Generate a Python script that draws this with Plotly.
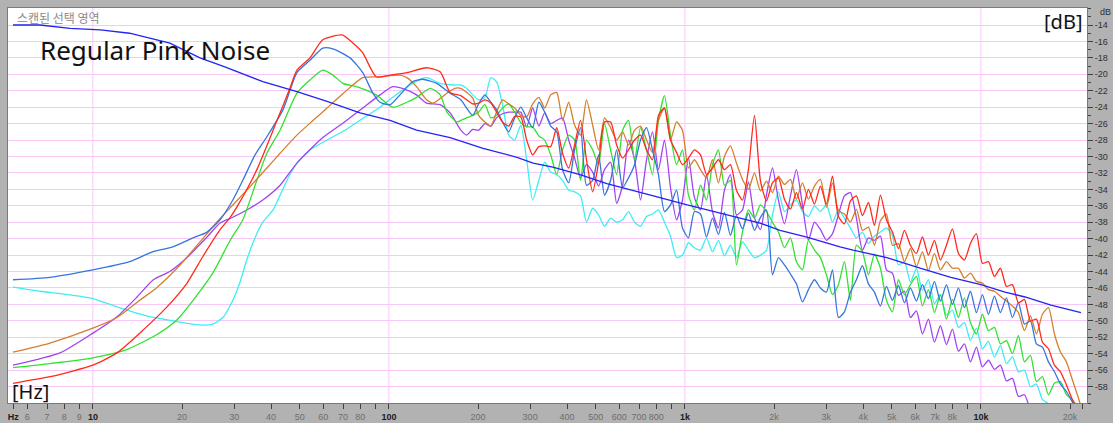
import plotly.graph_objects as go

# ---------------- data ----------------
# shared frequency grid (Hz) for the noisy upper part of the spectrum
NOISE_F = [175, 183, 192, 201, 211, 221, 231, 242, 254, 266,
           279, 292, 306, 321, 336, 352, 369, 386, 405, 424,
           444, 465, 488, 511, 535, 561, 588, 616, 645, 676,
           708, 742, 777, 814, 853, 894, 937, 981, 1028, 1077,
           1129, 1183, 1239, 1298, 1360, 1425, 1493, 1565, 1639, 1718,
           1800, 1886, 1976, 2070, 2169, 2273, 2381, 2495, 2614, 2739,
           2870, 3007, 3151, 3301, 3459, 3624, 3797, 3979, 4169, 4368,
           4577, 4795, 5024, 5264, 5516, 5779, 6055, 6345, 6648, 6965,
           7298, 7647, 8012, 8395, 8796, 9216, 9657, 10118, 10602, 11108,
           11639, 12195, 12778, 13389, 14029, 14699, 15402, 16138, 16909, 17717,
           18564, 19451, 20381, 21355, 22050]

# reference pink-noise curve
REF_F = [5.37, 6.63, 8.37, 10.6, 13.3, 18.2, 23.0, 27.9, 37.5, 48.9, 61.8, 79.9, 100.9, 124, 161,
         208, 271, 307, 358, 442, 545, 667, 824, 1018, 1246, 1535, 1794, 2096, 2582, 3343, 3700,
         4810, 6229, 7915, 10000, 12060, 14090, 17250, 21780]
REF_DB = [-14.0, -14.0, -14.4, -14.6, -15.0, -16.2, -18.0, -19.1, -20.9, -22.1, -23.3, -24.7, -25.6,
          -26.8, -27.7, -29.0, -30.1, -30.8, -31.3, -32.2, -33.3, -34.1, -35.0, -35.9, -36.7, -37.5,
          -38.1, -39.0, -39.8, -41.0, -41.4, -42.3, -43.6, -44.7, -45.6, -46.5, -47.1, -48.1, -49.0]

# red
RED_LOW_F = [5.37, 7.16, 10, 12.06, 14.8, 17.8, 20.8, 23.5, 26.9, 29.1, 30.7, 35.8, 41.9, 46.3, 48.9,
             54.1, 59.8, 69.5, 75.6, 81.6, 90.6, 100.9, 115, 134, 149, 161]
RED_LOW_DB = [-57.6, -56.8, -55.4, -53.9, -51.1, -48.3, -45.4, -42.2, -38.9, -37.4, -36.1, -31.6, -25.6,
              -21.7, -19.5, -18.0, -15.8, -15.2, -16.2, -17.4, -20.3, -20.1, -19.8, -19.2, -19.7, -22.2]
RED_HI_DB = [-22.6, -23.1, -23.6, -23.5, -23.1, -23.5, -24.6, -25.8, -26.3, -25.1,
             -25.2, -28.0, -29.8, -28.8, -28.7, -28.8, -26.5, -29.6, -31.4, -28.6,
             -25.6, -30.4, -34.3, -30.7, -25.8, -25.8, -28.6, -30.2, -29.2, -28.0,
             -27.4, -29.2, -30.4, -25.0, -24.1, -28.0, -29.5, -31.0, -30.2, -29.2,
             -29.8, -32.2, -31.4, -30.4, -31.6, -31.0, -34.1, -35.3, -31.6, -25.0,
             -33.0, -35.4, -33.2, -32.6, -35.2, -36.4, -34.4, -36.4, -34.0, -35.8,
             -33.6, -35.8, -32.4, -37.3, -38.2, -35.4, -34.8, -37.2, -35.6, -38.4,
             -34.7, -37.7, -39.2, -41.2, -39.0, -40.8, -41.8, -39.8, -42.0, -40.2,
             -42.6, -40.8, -38.8, -41.8, -42.6, -40.6, -39.4, -43.0, -42.8, -44.6,
             -43.6, -45.8, -45.6, -47.8, -47.4, -50.0, -49.8, -52.6, -53.4, -55.4,
             -56.2, -57.8, -59.6, -61.1, -62.3]

# steel blue
SB_LOW_F = [5.37, 7.16, 10, 13.3, 15.9, 18.6, 21.8, 24.3, 26.9, 29.7, 32.1, 35.3, 38.7, 43.9, 48.9,
            54.1, 59.8, 64.7, 73.9, 81.6, 88.3, 93.3, 100.9, 109, 120, 130, 145, 161]
SB_LOW_DB = [-45.0, -44.7, -43.8, -42.8, -41.6, -41.0, -39.9, -39.2, -37.7, -35.3, -32.9, -29.8, -27.6,
             -24.3, -19.8, -18.3, -16.8, -16.9, -18.0, -19.8, -22.3, -23.4, -23.7, -22.5, -20.9, -20.6,
             -21.1, -22.3]
SB_HI_DB = [-23.1, -24.1, -25.0, -23.6, -22.5, -23.4, -24.3, -25.8, -27.0, -25.3,
            -24.0, -25.3, -26.5, -23.4, -24.6, -26.3, -27.0, -31.6, -33.2, -29.2,
            -26.5, -33.5, -32.9, -29.8, -34.7, -32.9, -29.2, -33.8, -32.6, -31.0,
            -28.0, -26.5, -29.2, -32.2, -36.7, -35.9, -34.1, -38.7, -39.9, -36.7,
            -37.0, -39.8, -37.5, -39.5, -36.8, -39.6, -37.2, -38.8, -36.9, -39.0,
            -37.4, -36.5, -44.4, -42.3, -43.2, -44.3, -45.5, -47.7, -46.2, -45.0,
            -46.0, -46.5, -43.8, -49.6, -48.9, -46.5, -45.0, -43.3, -45.5, -46.5,
            -48.2, -45.8, -47.5, -45.7, -47.8, -46.0, -47.6, -45.6, -47.3, -45.2,
            -47.6, -45.6, -48.0, -46.0, -48.4, -46.4, -49.0, -46.8, -49.2, -47.0,
            -49.0, -47.2, -49.6, -47.8, -50.4, -50.0, -52.8, -53.2, -55.0, -56.2,
            -57.7, -58.6, -59.9, -61.1, -62.1]

# orange
OR_LOW_F = [5.37, 7.16, 10, 12.06, 14.4, 16.5, 19.7, 23.0, 26.2, 29.7, 33.9, 38.7, 42.9, 48.9, 55.5,
            61.8, 70.2, 81.6, 93.3, 109, 115, 124, 134, 141, 157, 167]
OR_LOW_DB = [-53.8, -52.7, -50.9, -49.6, -47.5, -45.9, -43.2, -40.4, -38.0, -35.9, -33.7, -31.4, -29.6,
             -27.4, -25.6, -24.1, -22.3, -20.4, -20.3, -20.1, -20.4, -21.5, -23.1, -23.5, -22.3, -21.7]
OR_HI_DB = [-21.7, -22.2, -22.9, -25.0, -25.8, -26.3, -24.6, -23.1, -23.6, -24.1,
            -25.0, -25.2, -23.6, -22.8, -24.1, -22.5, -22.2, -25.6, -23.4, -26.2,
            -27.4, -23.1, -26.2, -29.2, -25.3, -26.5, -28.0, -27.0, -28.6, -26.8,
            -26.3, -28.0, -29.5, -25.6, -24.1, -28.0, -25.8, -26.8, -31.4, -30.4,
            -31.6, -32.6, -30.4, -33.2, -30.0, -28.7, -30.8, -32.8, -34.0, -32.0,
            -34.2, -33.0, -34.4, -32.4, -33.4, -32.8, -35.2, -33.2, -35.2, -33.6,
            -32.8, -36.2, -33.2, -36.6, -37.0, -38.0, -36.4, -39.0, -38.6, -40.8,
            -37.8, -37.0, -40.8, -40.6, -42.8, -41.2, -43.4, -41.6, -43.9, -41.8,
            -43.8, -42.8, -43.6, -43.6, -44.8, -44.2, -45.2, -45.4, -46.2, -46.4,
            -47.0, -47.6, -48.2, -49.0, -51.2, -49.4, -51.6, -49.2, -48.4, -51.6,
            -53.8, -55.0, -57.2, -59.4, -61.1]

# green
GR_LOW_F = [5.37, 7.16, 10, 13.0, 16.4, 19.2, 21.8, 25.4, 29.1, 32.1, 35.8, 38.7, 42.9, 48.9, 54.1,
            59.8, 64.7, 69.9, 77.7, 90.6, 103, 115, 124, 138, 149, 157, 170]
GR_LOW_DB = [-55.7, -55.2, -54.5, -53.5, -51.7, -49.9, -47.5, -44.2, -40.2, -37.7, -32.9, -29.6, -26.8,
             -22.3, -20.7, -19.5, -20.1, -21.1, -21.5, -22.5, -24.0, -23.4, -22.8, -21.7, -22.5, -24.6,
             -25.8]
GR_HI_DB = [-25.6, -25.3, -25.0, -24.6, -23.7, -25.3, -25.0, -24.1, -23.6, -24.6,
            -25.9, -26.4, -26.4, -27.5, -28.0, -29.8, -32.2, -29.2, -27.4, -28.0,
            -32.9, -28.0, -29.2, -31.0, -26.0, -29.2, -32.2, -26.8, -25.6, -30.4,
            -26.5, -29.2, -32.2, -25.6, -22.6, -27.4, -31.0, -29.2, -34.7, -36.5,
            -33.5, -35.3, -31.0, -29.2, -33.5, -32.9, -43.2, -39.2, -36.5, -37.5,
            -35.9, -36.7, -38.0, -39.2, -41.1, -39.9, -42.8, -43.8, -40.2, -41.4,
            -42.3, -44.4, -46.8, -45.6, -42.8, -47.5, -40.8, -41.6, -44.4, -41.9,
            -43.6, -47.5, -48.9, -45.0, -46.8, -45.6, -44.6, -48.2, -46.2, -49.0,
            -46.8, -49.8, -47.4, -49.6, -47.2, -50.2, -51.6, -49.2, -51.2, -50.8,
            -52.8, -52.4, -54.0, -51.8, -55.0, -54.2, -57.4, -56.8, -59.0, -57.6,
            -57.4, -59.0, -59.6, -60.8, -62.1]

# purple
PU_LOW_F = [5.37, 7.74, 10, 12.06, 14.1, 16.0, 18.2, 20.8, 24.3, 26.9, 29.7, 33.9, 37.5, 42.9, 48.9,
            59.8, 70.2, 81.6, 93.3, 103, 111, 124, 134, 149, 161, 167]
PU_LOW_DB = [-55.4, -53.9, -51.5, -49.5, -47.1, -45.0, -44.0, -42.3, -39.8, -38.1, -37.4, -36.3, -35.3,
             -33.5, -30.8, -27.7, -25.9, -24.1, -22.5, -21.5, -21.7, -22.5, -23.5, -23.7, -24.7, -25.6]
PU_HI_DB = [-26.8, -27.4, -26.7, -26.8, -26.0, -26.3, -25.3, -24.8, -24.6, -24.6,
            -24.6, -26.4, -24.1, -26.3, -24.7, -26.0, -25.6, -25.3, -28.0, -30.2,
            -32.6, -31.0, -31.9, -33.6, -31.6, -30.7, -35.7, -33.5, -28.0, -30.4,
            -35.3, -30.4, -27.0, -31.6, -28.0, -33.8, -37.7, -35.3, -30.2, -35.0,
            -36.5, -32.2, -36.7, -38.7, -34.1, -32.2, -37.1, -36.5, -33.1, -37.5,
            -38.9, -34.7, -31.4, -35.3, -38.2, -34.8, -31.6, -35.9, -40.2, -38.0,
            -38.9, -40.2, -39.4, -37.1, -34.8, -34.4, -37.5, -41.4, -39.9, -40.2,
            -39.7, -43.8, -44.2, -46.9, -46.4, -49.6, -48.8, -51.6, -49.8, -52.6,
            -50.6, -52.9, -51.0, -53.7, -52.8, -55.0, -53.2, -55.6, -54.8, -55.9,
            -55.4, -57.3, -57.0, -59.2, -59.0, -60.8, -61.8, -62.8, -63.8, -64.5,
            -65.3, -66.0, -66.7, -67.4, -68.1]

# cyan
CY_LOW_F = [5.37, 6.63, 8.18, 10, 12.06, 15.2, 18.6, 23.0, 25.4, 27.5, 29.7, 31.4, 33.1, 35.3, 37.5,
            40.6, 42.9, 46.3, 48.9, 54.1, 61.8, 71.0, 79.9, 93.3, 103, 120, 134, 149, 165]
CY_LOW_DB = [-45.9, -46.4, -46.8, -47.3, -48.3, -49.4, -50.0, -50.5, -50.4, -49.6, -47.5, -45.3, -42.6,
             -39.9, -38.0, -36.5, -34.7, -32.2, -30.8, -29.2, -28.0, -26.8, -25.6, -24.0, -22.8, -21.1,
             -20.4, -21.1, -21.3]
CY_HI_DB = [-21.3, -21.7, -22.5, -23.1, -22.8, -20.4, -20.9, -23.7, -27.4, -28.0,
            -26.2, -30.4, -35.3, -32.9, -30.7, -31.9, -32.2, -32.9, -34.1, -34.3,
            -34.8, -38.0, -36.3, -37.1, -38.5, -37.5, -38.0, -37.7, -36.7, -38.0,
            -38.5, -37.3, -37.0, -36.5, -38.0, -39.7, -42.3, -42.0, -40.5, -41.1,
            -41.4, -39.9, -41.6, -40.2, -42.1, -40.8, -42.3, -40.4, -41.4, -42.3,
            -42.0, -41.4, -37.1, -34.3, -36.7, -35.9, -35.3, -36.7, -37.3, -36.0,
            -36.7, -35.9, -38.0, -36.5, -37.5, -38.7, -39.9, -39.2, -40.6, -39.7,
            -39.2, -38.7, -39.6, -43.2, -42.8, -45.3, -43.6, -46.3, -45.0, -47.9,
            -46.8, -49.3, -48.7, -50.8, -50.2, -52.4, -50.9, -53.4, -52.5, -54.4,
            -53.0, -55.2, -54.4, -56.2, -56.0, -58.0, -57.7, -59.6, -60.1, -61.1,
            -62.1, -63.3, -64.5, -65.7, -66.9]

# axis ticks
XT_VALS = [5.38, 6, 7, 8, 9, 10, 20, 30, 40, 50, 60, 70, 80, 90, 100, 200, 300, 400, 500, 600, 700,
           800, 900, 1000, 2000, 3000, 4000, 5000, 6000, 7000, 8000, 9000, 10000, 20000, 22050]
XT_LABELS = ["Hz", "6", "7", "8", "9", "10", "20", "30", "40", "50", "60", "70", "80", "", "100",
             "200", "300", "400", "500", "600", "700", "800", "", "1k", "2k", "3k", "4k", "5k", "6k",
             "7k", "8k", "", "10k", "20k", ""]
BOLD_LABELS = ["Hz", "10", "100", "1k", "10k"]
YT_VALS = list(range(-58, -13, 2))
DECADE_LINES = [10, 100, 1000, 10000]

# ---------------- figure ----------------
fig = go.Figure()

series = [
    (CY_LOW_F, CY_LOW_DB, CY_HI_DB, "#3eeef2"),
    (PU_LOW_F, PU_LOW_DB, PU_HI_DB, "#a044f2"),
    (GR_LOW_F, GR_LOW_DB, GR_HI_DB, "#2fe22f"),
    (OR_LOW_F, OR_LOW_DB, OR_HI_DB, "#d47f2c"),
    (SB_LOW_F, SB_LOW_DB, SB_HI_DB, "#3576dc"),
    (RED_LOW_F, RED_LOW_DB, RED_HI_DB, "#ff2a1c"),
]
for lf, ld, hd, col in series:
    fig.add_trace(go.Scatter(x=lf + NOISE_F, y=ld + hd, mode="lines",
                             line=dict(color=col, width=1.3, shape="spline", smoothing=0.6),
                             hoverinfo="skip"))

fig.add_trace(go.Scatter(x=REF_F, y=REF_DB, mode="lines",
                         line=dict(color="#2424f2", width=1.3), hoverinfo="skip"))

ticktext = []
for t in XT_LABELS:
    if t in BOLD_LABELS:
        ticktext.append("<b><span style='color:#202020'>" + t + "</span></b>")
    else:
        ticktext.append(t)

pink = "#f9c6f9"
shapes = [dict(type="line", xref="x", yref="paper", x0=v, x1=v, y0=0, y1=1,
               line=dict(color=pink, width=1), layer="below") for v in DECADE_LINES]

fig.update_layout(
    width=1113, height=423,
    margin=dict(l=8, r=26, t=8, b=20, autoexpand=False),
    paper_bgcolor="#b2b2b2", plot_bgcolor="white",
    showlegend=False,
    shapes=shapes,
    xaxis=dict(type="log", range=[0.7132, 4.3584], tickmode="array", tickvals=XT_VALS,
               ticktext=ticktext, ticks="outside", ticklen=5, tickcolor="#404040",
               tickfont=dict(family="Liberation Sans", size=9, color="#6e6e6e"),
               showgrid=False, zeroline=False, showline=True, linecolor="#7a7a7a",
               mirror=True, automargin=False),
    yaxis=dict(side="right", range=[-60.0, -11.93], tickmode="array", tickvals=YT_VALS,
               ticktext=[str(v) for v in YT_VALS], ticks="outside", ticklen=5,
               tickcolor="#404040",
               tickfont=dict(family="Liberation Sans", size=9, color="#303030"),
               showgrid=True, gridcolor=pink, gridwidth=1, zeroline=False,
               showline=True, linecolor="#7a7a7a", mirror=True, automargin=False,
               minor=dict(tickmode="linear", tick0=-60, dtick=1, ticks="outside",
                          ticklen=3, tickcolor="#404040", showgrid=False)),
    annotations=[
        dict(text="스캔된 선택 영역", xref="paper", yref="paper", x=0.0065, y=0.977,
             xanchor="left", yanchor="middle", showarrow=False,
             font=dict(family="Noto Sans CJK KR", size=12, color="#8a8a8a")),
        dict(text="Regular Pink Noise", xref="paper", yref="paper", x=0.0278, y=0.894,
             xanchor="left", yanchor="middle", showarrow=False,
             font=dict(family="Noto Sans", size=26, color="#111111")),
        dict(text="[dB]", xref="paper", yref="paper", x=0.9972, y=0.967,
             xanchor="right", yanchor="middle", showarrow=False,
             font=dict(family="Noto Sans", size=20, color="#111111")),
        dict(text="[Hz]", xref="paper", yref="paper", x=0.0019, y=0.030,
             xanchor="left", yanchor="middle", showarrow=False,
             font=dict(family="Noto Sans", size=20, color="#111111")),
        dict(text="dB", xref="paper", yref="paper", x=1.0167, y=0.99,
             xanchor="center", yanchor="middle", showarrow=False,
             font=dict(family="Liberation Sans", size=9, color="#303030")),
    ],
)

fig.write_html("out.html", config={"displayModeBar": False},
               post_script="document.body.style.margin='0px';document.body.style.padding='0px';"
                           "document.body.style.overflow='hidden';")
